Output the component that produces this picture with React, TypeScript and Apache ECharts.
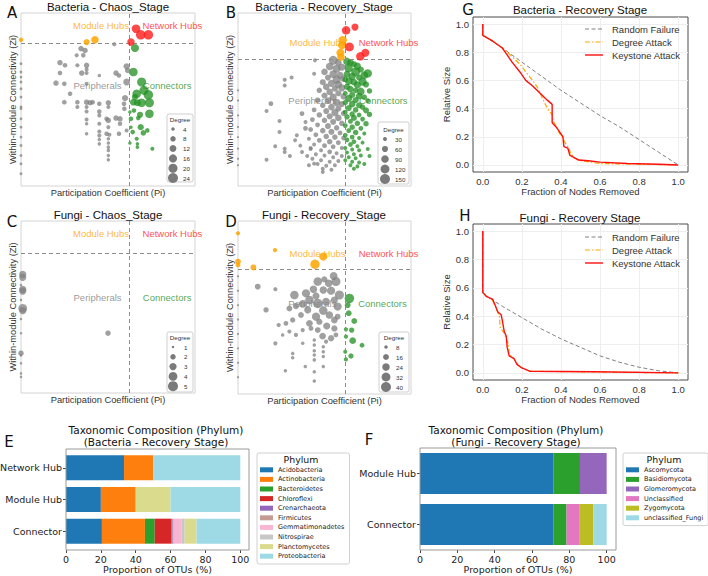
import React, { useEffect, useRef } from 'react';
import * as echarts from 'echarts';

// ---------- Zi–Pi role scatter data: [Pi, Zi, degree] ----------
const bacChaosPeripherals = [
  [0.345, 2.25, 8], [0.368, 2.16, 8], [0.32, 1.92, 5], [0.358, 1.92, 6], [0.536, 2.46, 5],
  [0.224, 1.56, 8], [0.253, 1.43, 6], [0.324, 1.43, 5], [0.377, 1.43, 8], [0.377, 1.23, 5],
  [0.349, 1.05, 8], [0.377, 1.05, 5], [0.45, 0.93, 4], [0.224, 1.05, 6], [0.546, 1.05, 8],
  [0.563, 0.93, 6], [0.607, 1.38, 10], [0.607, 0.61, 12], [0.201, 0.56, 8], [0.249, 0.52, 6],
  [0.282, 0.03, 6], [0.377, 0.52, 5], [0.249, -0.38, 6], [0.324, -0.38, 6], [0.377, -0.38, 8],
  [0.397, -0.41, 8], [0.412, -0.38, 6], [0.45, -0.46, 6], [0.502, -0.41, 8], [0.502, -0.62, 5],
  [0.598, -0.18, 10], [0.592, -0.46, 6], [0.594, -0.7, 6], [0.324, -0.62, 5], [0.377, -0.62, 5],
  [0.377, -0.84, 5], [0.45, -0.84, 6], [0.45, -1.03, 5], [0.377, -1.23, 5], [0.377, -1.44, 4],
  [0.492, -1.2, 6], [0.502, -1.28, 8], [0.546, -1.16, 8], [0.569, -1.2, 8], [0.569, -1.44, 6],
  [0.45, -1.44, 5], [0.502, -1.61, 5], [0.377, -1.93, 4], [0.45, -1.82, 5], [0.45, -2.02, 5],
  [0.492, -1.93, 6], [0.508, -1.98, 5], [0.563, -1.93, 6], [0.607, -1.77, 5], [0.45, -2.21, 4],
  [0.45, -2.43, 4], [0.502, -2.18, 4], [0.502, -2.39, 4], [0.502, -2.59, 4], [0.502, -2.75, 4],
  [0.502, -3.0, 4], [0.502, -3.21, 4], [0.613, 1.18, 8],
  [0, 1.51, 3], [0, 1.1, 3], [0, 0.85, 3], [0, 0.61, 3], [0, 0.28, 3], [0, -0.13, 3],
  [0, -0.62, 3], [0, -0.7, 3], [0, -1.2, 3], [0, -1.61, 3], [0, -2.1, 3], [0, -2.51, 3],
  [0, -3.0, 3], [0, -3.41, 3], [0, -3.9, 3],
];
const bacChaosConnectors = [
  [0.655, 2.28, 16], [0.646, 1.1, 18], [0.693, 0.61, 20], [0.665, 0.03, 18], [0.707, 0.2, 20],
  [0.732, -0.02, 22], [0.646, -0.38, 12], [0.669, -0.41, 12], [0.693, -0.41, 18], [0.738, -0.41, 20],
  [0.738, -0.95, 18], [0.684, -1.0, 10], [0.649, -0.79, 6], [0.626, -0.87, 4], [0.632, -1.2, 6],
  [0.674, -1.16, 6], [0.632, -1.61, 4], [0.688, -1.61, 10], [0.642, -1.85, 6], [0.703, -1.89, 8],
  [0.726, -1.77, 6], [0.665, -2.18, 5], [0.626, -2.39, 4], [0.669, -2.43, 4], [0.669, -2.59, 4],
  [0.755, -2.67, 5], [0.655, -0.13, 10],
];
const bacChaosModuleHubs = [[0.377, 2.57, 10], [0.425, 2.68, 14], [0.0, 2.68, 6]];
const bacChaosNetworkHubs = [[0.661, 3.23, 18], [0.688, 2.93, 22], [0.732, 2.93, 22], [0.632, 2.57, 14]];

const bacRecoveryPeripherals = [
  [0.55, 2.45, 120], [0.58, 2.35, 70], [0.53, 2.18, 90], [0.57, 2.08, 100], [0.6, 2.15, 80],
  [0.5, 1.95, 70], [0.55, 1.85, 90], [0.59, 1.8, 80], [0.52, 1.7, 60], [0.57, 1.62, 100],
  [0.61, 1.65, 70], [0.49, 1.5, 60], [0.54, 1.45, 80], [0.58, 1.4, 90], [0.51, 1.3, 70],
  [0.56, 1.22, 60], [0.6, 1.25, 80], [0.47, 1.15, 50], [0.53, 1.08, 70], [0.58, 1.02, 60],
  [0.5, 0.92, 60], [0.55, 0.85, 80], [0.61, 0.88, 60], [0.46, 0.72, 50], [0.52, 0.7, 70],
  [0.57, 0.62, 90], [0.6, 0.55, 60], [0.49, 0.5, 50], [0.54, 0.42, 70], [0.58, 0.35, 60],
  [0.44, 0.3, 40], [0.51, 0.25, 60], [0.56, 0.18, 80], [0.61, 0.15, 50], [0.47, 0.08, 50],
  [0.53, 0.02, 60], [0.58, -0.05, 70], [0.43, -0.12, 40], [0.5, -0.15, 50], [0.55, -0.22, 60],
  [0.6, -0.28, 50], [0.46, -0.35, 40], [0.52, -0.4, 60], [0.57, -0.48, 50], [0.42, -0.55, 40],
  [0.49, -0.6, 50], [0.54, -0.65, 60], [0.59, -0.7, 40], [0.45, -0.78, 40], [0.51, -0.85, 50],
  [0.56, -0.88, 50], [0.61, -0.92, 40], [0.41, -0.95, 30], [0.47, -1.02, 40], [0.53, -1.08, 50],
  [0.58, -1.12, 40], [0.44, -1.2, 30], [0.5, -1.25, 40], [0.55, -1.3, 40], [0.6, -1.35, 30],
  [0.42, -1.4, 30], [0.48, -1.45, 30], [0.53, -1.52, 40], [0.57, -1.58, 30], [0.45, -1.62, 30],
  [0.5, -1.68, 30], [0.55, -1.75, 30], [0.6, -1.7, 30], [0.43, -1.82, 30], [0.48, -1.88, 30],
  [0.53, -1.95, 30], [0.58, -1.92, 30], [0.46, -2.05, 30], [0.51, -2.12, 30], [0.56, -2.1, 30],
  [0.49, -2.25, 30], [0.54, -2.3, 30],
  [0.31, 1.7, 30], [0.27, 1.61, 30], [0.27, 1.36, 30], [0.44, 1.87, 30], [0.445, 2.45, 30],
  [0.19, 0.57, 40], [0.165, 0.25, 30], [0.24, -0.18, 30], [0.24, -0.66, 30], [0.215, -1.28, 30],
  [0.165, -1.86, 30], [0.27, -1.38, 30], [0.27, -1.53, 30], [0.33, -1.02, 30], [0.37, 0.14, 40],
  [0.39, -0.23, 30], [0.37, -1.53, 30], [0.4, -1.7, 30], [0.42, -1.35, 30], [0.44, -2.03, 30],
  [0.49, -2.39, 30], [0.39, -0.5, 40], [0.34, -0.8, 30], [0.36, -1.25, 30], [0.3, -1.7, 30],
  [0.41, -2.1, 30],
  [0, 1.15, 10], [0, 0.71, 10], [0, 0.06, 10], [0, -0.44, 10], [0, -0.88, 10], [0, -1.38, 10],
  [0, -1.82, 10], [0, -2.1, 10],
];
const bacRecoveryConnectors = [
  [0.63, 2.4, 90], [0.65, 2.35, 70], [0.67, 2.28, 60], [0.69, 2.2, 80], [0.64, 2.1, 100],
  [0.71, 2.05, 60], [0.68, 1.95, 120], [0.75, 1.88, 110], [0.73, 1.8, 90], [0.63, 1.85, 70],
  [0.66, 1.75, 80], [0.7, 1.7, 60], [0.62, 1.62, 50], [0.64, 1.55, 90], [0.67, 1.5, 70],
  [0.72, 1.52, 100], [0.74, 1.4, 60], [0.69, 1.38, 80], [0.63, 1.3, 60], [0.65, 1.2, 70],
  [0.68, 1.15, 50], [0.71, 1.1, 90], [0.76, 1.12, 50], [0.62, 1.02, 40], [0.66, 0.95, 60],
  [0.7, 0.9, 70], [0.73, 0.85, 50], [0.64, 0.8, 80], [0.68, 0.72, 60], [0.75, 0.7, 40],
  [0.62, 0.62, 50], [0.66, 0.55, 70], [0.7, 0.5, 60], [0.72, 0.42, 50], [0.64, 0.38, 60],
  [0.68, 0.3, 50], [0.74, 0.28, 60], [0.62, 0.2, 40], [0.66, 0.12, 50], [0.7, 0.08, 40],
  [0.76, 0.1, 50], [0.63, 0.0, 50], [0.67, -0.05, 60], [0.72, -0.1, 40], [0.65, -0.2, 40],
  [0.69, -0.28, 50], [0.74, -0.3, 50], [0.62, -0.38, 40], [0.66, -0.45, 50], [0.71, -0.5, 40],
  [0.64, -0.6, 40], [0.68, -0.68, 50], [0.73, -0.72, 30], [0.62, -0.8, 40], [0.66, -0.88, 40],
  [0.7, -0.92, 30], [0.63, -1.0, 40], [0.67, -1.08, 40], [0.72, -1.12, 30], [0.65, -1.2, 40],
  [0.69, -1.28, 30], [0.62, -1.35, 30], [0.66, -1.42, 30], [0.7, -1.45, 30], [0.75, -1.4, 30],
  [0.63, -1.55, 30], [0.67, -1.62, 30], [0.71, -1.68, 30], [0.64, -1.75, 30], [0.68, -1.8, 30],
  [0.76, -1.7, 30], [0.62, -1.88, 30], [0.66, -1.95, 30], [0.7, -1.98, 30], [0.65, -2.1, 30],
  [0.69, -2.15, 30], [0.73, -2.05, 30], [0.67, -2.25, 30],
];
const bacRecoveryModuleHubs = [[0.605, 3.32, 110], [0.601, 3.1, 100], [0.592, 2.78, 100], [0.595, 2.59, 90]];
const bacRecoveryNetworkHubs = [[0.625, 3.75, 110], [0.676, 3.89, 80], [0.644, 3.03, 120], [0.707, 2.62, 110], [0.736, 2.78, 100]];

const fungiChaosPeripherals = [
  [0.5, -1.22, 2],
  [0.01, 1.52, 3], [0.01, 1.38, 3], [0.0, 1.02, 1], [0.01, 0.82, 3], [0.01, 0.74, 3],
  [0.0, 0.33, 1], [0.01, -0.06, 4], [0.01, -0.17, 3], [0.0, -0.56, 1], [0.0, -1.22, 1],
  [0.0, -2.15, 2], [0.0, -2.25, 1], [0.0, -2.62, 1], [0.0, -3.09, 1], [0.0, -3.25, 1],
];
const fungiChaosConnectors: number[][] = [];
const fungiChaosModuleHubs: number[][] = [];
const fungiChaosNetworkHubs: number[][] = [];

const fungiRecoveryPeripherals = [
  [0.114, 1.77, 16], [0.216, 1.66, 10], [0.162, 0.8, 14], [0.326, 1.42, 30], [0.393, 1.49, 28],
  [0.436, 1.66, 24], [0.461, 1.98, 30], [0.499, 2.07, 18], [0.553, 2.21, 26], [0.566, 1.98, 34],
  [0.524, 1.91, 24], [0.586, 1.42, 34], [0.538, 1.6, 28], [0.493, 1.63, 24], [0.451, 1.38, 22],
  [0.413, 1.21, 30], [0.374, 1.05, 26], [0.335, 0.96, 18], [0.297, 0.86, 16], [0.461, 1.07, 36],
  [0.509, 1.14, 26], [0.557, 1.21, 22], [0.576, 0.94, 28], [0.493, 0.77, 30], [0.528, 0.59, 24],
  [0.451, 0.52, 28], [0.403, 0.8, 22], [0.364, 0.59, 16], [0.316, 0.38, 14], [0.277, 0.24, 12],
  [0.235, 0.17, 10], [0.413, 0.24, 20], [0.47, 0.31, 18], [0.557, 0.38, 20], [0.576, 0.52, 16],
  [0.513, 0.13, 22], [0.557, 0.03, 18], [0.461, -0.04, 16], [0.422, 0.03, 12], [0.374, -0.04, 10],
  [0.335, -0.24, 10], [0.297, -0.1, 10], [0.258, -0.24, 8], [0.216, -0.59, 10], [0.489, -0.29, 20],
  [0.538, -0.38, 18], [0.566, -0.24, 12], [0.509, -0.52, 10], [0.441, -0.45, 8], [0.441, -0.66, 8],
  [0.374, -0.59, 8], [0.441, -0.9, 8], [0.493, -0.94, 8], [0.493, -0.73, 8], [0.441, -1.08, 8],
  [0.441, -1.28, 8], [0.493, -1.14, 8], [0.493, -1.56, 8], [0.316, -1.01, 8], [0.316, -1.19, 8],
  [0.274, -1.73, 8], [0.441, -1.77, 8], [0.441, -2.16, 8], [0.389, -1.56, 8],
  [0, 2.2, 4], [0, 1.6, 4], [0, 1.0, 4], [0, 0.4, 4], [0, -0.2, 4], [0, -0.8, 4], [0, -1.4, 4], [0, -2.0, 4],
];
const fungiRecoveryConnectors = [
  [0.644, 1.28, 36], [0.634, 1.0, 16], [0.64, 0.66, 16], [0.672, 0.34, 16], [0.624, -0.01, 10],
  [0.657, -0.04, 14], [0.663, -0.48, 20], [0.717, -0.67, 12], [0.624, -0.31, 10], [0.62, -0.94, 10],
  [0.653, -1.12, 14], [0.624, -1.26, 10],
];
const fungiRecoveryModuleHubs = [
  [0.0, 3.99, 10], [0.214, 3.29, 10], [0.0, 2.81, 16], [0.0, 2.67, 12], [0.089, 2.57, 16],
  [0.445, 2.7, 36], [0.493, 3.02, 28],
];
const fungiRecoveryNetworkHubs: number[][] = [];

// degree keys shown in each size legend
const degreeKeysBacChaos = [4, 8, 12, 16, 20, 24];
const degreeKeysBacRecovery = [30, 60, 90, 120, 150];
const degreeKeysFungiChaos = [1, 2, 3, 4, 5];
const degreeKeysFungiRecovery = [8, 16, 24, 32, 40];

// role thresholds
const PI_CUT = 0.62;
const ZI_CUT = 2.5;

// ---------- robustness curves: [fraction removed, relative size] ----------
const attackNames = ['Random Failure', 'Degree Attack', 'Keystone Attack'];
const bacRandom = [[0, 1], [0, 0.92], [0.1, 0.83], [0.2, 0.73], [0.3, 0.63], [0.4, 0.53], [0.5, 0.44], [0.6, 0.35], [0.7, 0.27], [0.8, 0.18], [0.9, 0.09], [1, 0]];
const bacDegree = [[0, 1], [0, 0.92], [0.05, 0.88], [0.1, 0.83], [0.15, 0.77], [0.2, 0.7], [0.22, 0.66], [0.255, 0.6], [0.28, 0.55], [0.3, 0.49], [0.32, 0.43], [0.34, 0.38], [0.355, 0.36], [0.36, 0.31], [0.38, 0.27], [0.39, 0.23], [0.41, 0.19], [0.42, 0.16], [0.44, 0.12], [0.45, 0.08], [0.47, 0.05], [0.5, 0.03], [0.55, 0.02], [0.6, 0.01], [0.8, 0.005], [1, 0]];
const bacKeystone = [[0, 1], [0, 0.92], [0.05, 0.88], [0.1, 0.83], [0.12, 0.79], [0.15, 0.73], [0.19, 0.66], [0.22, 0.6], [0.255, 0.56], [0.3, 0.5], [0.33, 0.46], [0.355, 0.43], [0.355, 0.3], [0.375, 0.27], [0.4, 0.22], [0.41, 0.2], [0.415, 0.13], [0.435, 0.12], [0.445, 0.07], [0.47, 0.05], [0.49, 0.035], [0.54, 0.03], [0.6, 0.02], [0.74, 0.01], [0.9, 0.005], [1, 0]];
const fungiRandom = [[0, 1], [0, 0.56], [0.1, 0.47], [0.2, 0.39], [0.3, 0.31], [0.4, 0.24], [0.5, 0.18], [0.6, 0.12], [0.7, 0.075], [0.8, 0.04], [0.9, 0.015], [1, 0]];
const fungiDegree = [[0, 1], [0, 0.57], [0.02, 0.54], [0.05, 0.51], [0.07, 0.45], [0.085, 0.4], [0.09, 0.31], [0.1, 0.3], [0.11, 0.28], [0.12, 0.24], [0.13, 0.21], [0.135, 0.13], [0.16, 0.1], [0.18, 0.06], [0.2, 0.035], [0.24, 0.012], [0.6, 0.006], [1, 0]];
const fungiKeystone = [[0, 1], [0, 0.57], [0.017, 0.54], [0.05, 0.52], [0.06, 0.49], [0.077, 0.43], [0.094, 0.41], [0.1, 0.37], [0.11, 0.29], [0.12, 0.26], [0.125, 0.18], [0.135, 0.12], [0.16, 0.1], [0.175, 0.06], [0.2, 0.035], [0.24, 0.012], [0.57, 0.008], [1, 0]];
const fractionTicks = [0, 0.2, 0.4, 0.6, 0.8, 1.0];

// ---------- taxonomic composition (% of OTUs) ----------
const bacRoles = ['Connector', 'Module Hub', 'Network Hub'];
const bacPhyla = ['Acidobacteria', 'Actinobacteria', 'Bacteroidetes', 'Chloroflexi', 'Crenarchaeota', 'Firmicutes', 'Gemmatimonadetes', 'Nitrospirae', 'Planctomycetes', 'Proteobacteria'];
const bacConnectorPct = [20.6, 24.7, 5.6, 9.7, 0.6, 0.6, 4.4, 1.9, 6.8, 25.1];
const bacModuleHubPct = [20, 20, 0, 0, 0, 0, 0, 0, 20, 40];
const bacNetworkHubPct = [33.3, 16.7, 0, 0, 0, 0, 0, 0, 0, 50];
const bacPhylaColors = ['#1f77b4', '#ff7f0e', '#2ca02c', '#d62728', '#9467bd', '#c49c94', '#f7b6d2', '#c7c7c7', '#dbdb8d', '#9edae5'];

const fungiRoles = ['Connector', 'Module Hub'];
const fungiPhyla = ['Ascomycota', 'Basidiomycota', 'Glomeromycota', 'Unclassified', 'Zygomycota', 'unclassified_Fungi'];
const fungiConnectorPct = [71.4, 7.1, 0, 7.1, 7.2, 7.2];
const fungiModuleHubPct = [71.4, 14.3, 14.3, 0, 0, 0];
const fungiPhylaColors = ['#1f77b4', '#2ca02c', '#9467bd', '#e377c2', '#bcbd22', '#9edae5'];
const pctTicks = [0, 20, 40, 60, 80, 100];

const SANS = '"Liberation Sans", Arial, Helvetica, sans-serif';
const DJ = '"DejaVu Sans", Verdana, sans-serif';

function sizeScale(dmin: number, dmax: number, lo: number, hi: number) {
  return (deg: number) => {
    const t = (deg - dmin) / (dmax - dmin);
    const area = lo * lo + (hi * hi - lo * lo) * t;
    return Math.sqrt(Math.max(area, 5));
  };
}

function txt(x: number, y: number, text: string, fontSize: number, opts: any = {}) {
  return {
    type: 'text',
    x,
    y,
    silent: true,
    z: 50,
    style: {
      text,
      fontSize,
      fontFamily: opts.fontFamily || SANS,
      fill: opts.fill || '#222',
      align: opts.align || 'center',
      verticalAlign: 'middle',
      textAlign: opts.align || 'center',
      textVerticalAlign: 'middle',
    },
  };
}

function buildOption() {
  const grids: any[] = [];
  const xAxes: any[] = [];
  const yAxes: any[] = [];
  const series: any[] = [];
  const graphics: any[] = [];
  const legends: any[] = [];

  const panels = [
    {
      rect: [21, 13, 174, 173], yRange: [-4.5, 4],
      peri: bacChaosPeripherals, conn: bacChaosConnectors, mod: bacChaosModuleHubs, net: bacChaosNetworkHubs,
      size: sizeScale(4, 24, 3.5, 10), keys: degreeKeysBacChaos,
      legend: { box: [167, 114, 26, 68], first: 15, step: 9.8, cdx: 6, ldx: 16 },
      notes: { mod: [0.46, 3.41], net: [0.87, 3.41], peri: [0.44, 0.46], conn: [0.84, 0.46] },
      title: 'Bacteria - Chaos_Stage', titleAt: [108, 7], letter: 'A', letterAt: [12, 13],
    },
    {
      rect: [238, 13, 173, 173], yRange: [-3, 4.5],
      peri: bacRecoveryPeripherals, conn: bacRecoveryConnectors, mod: bacRecoveryModuleHubs, net: bacRecoveryNetworkHubs,
      size: sizeScale(30, 150, 4, 10), keys: degreeKeysBacRecovery,
      legend: { box: [378, 122, 31, 62], first: 17, step: 10, cdx: 7, ldx: 17 },
      notes: { mod: [0.46, 3.21], net: [0.87, 3.21], peri: [0.43, 0.69], conn: [0.84, 0.69] },
      title: 'Bacteria - Recovery_Stage', titleAt: [324, 7], letter: 'B', letterAt: [231, 13],
    },
    {
      rect: [21, 221, 174, 172], yRange: [-4, 4],
      peri: fungiChaosPeripherals, conn: fungiChaosConnectors, mod: fungiChaosModuleHubs, net: fungiChaosNetworkHubs,
      size: sizeScale(1, 5, 2.5, 10), keys: degreeKeysFungiChaos,
      legend: { box: [167, 332, 26, 60], first: 15, step: 9.8, cdx: 6, ldx: 17 },
      notes: { mod: [0.46, 3.4], net: [0.87, 3.4], peri: [0.44, 0.42], conn: [0.84, 0.42] },
      title: 'Fungi - Chaos_Stage', titleAt: [108, 215], letter: 'C', letterAt: [12, 222],
    },
    {
      rect: [238, 221, 173, 173], yRange: [-2.7, 4.5],
      peri: fungiRecoveryPeripherals, conn: fungiRecoveryConnectors, mod: fungiRecoveryModuleHubs, net: fungiRecoveryNetworkHubs,
      size: sizeScale(8, 40, 3.5, 10), keys: degreeKeysFungiRecovery,
      legend: { box: [379, 332, 30, 60], first: 15, step: 10, cdx: 7, ldx: 17 },
      notes: { mod: [0.46, 3.13], net: [0.87, 3.13], peri: [0.43, 1.05], conn: [0.835, 1.05] },
      title: 'Fungi - Recovery_Stage', titleAt: [324, 215], letter: 'D', letterAt: [231, 222],
    },
  ];

  panels.forEach((p, i) => {
    const [l, t, w, h] = p.rect;
    grids.push({ left: l, top: t, width: w, height: h, show: true, borderColor: '#d4d4d4', borderWidth: 1, backgroundColor: '#fff', containLabel: false, outerBoundsMode: 'none' });
    xAxes.push({
      type: 'value', gridIndex: i, min: 0, max: 1,
      axisLine: { show: false }, axisTick: { show: false }, axisLabel: { show: false }, splitLine: { show: false },
      name: 'Participation Coefficient (Pi)', nameLocation: 'middle', nameGap: 2,
      nameTextStyle: { fontSize: 9.3, fontFamily: SANS, color: '#333', verticalAlign: 'top' },
    });
    yAxes.push({
      type: 'value', gridIndex: i, min: p.yRange[0], max: p.yRange[1],
      axisLine: { show: false }, axisTick: { show: false }, axisLabel: { show: false }, splitLine: { show: false },
      name: 'Within-module Connectivity (Zi)', nameLocation: 'middle', nameGap: 4,
      nameTextStyle: { fontSize: 9.3, fontFamily: SANS, color: '#333' },
    });
    const sym = (v: number[]) => p.size(v[2]);
    const groups = [
      { data: p.peri, color: '#808080', opacity: 0.75 },
      { data: p.conn, color: '#1f8f1f', opacity: 0.75 },
      { data: p.mod, color: '#ffa500', opacity: 0.85 },
      { data: p.net, color: '#ff1a1a', opacity: 0.8 },
    ];
    // role labels sit underneath the nodes
    const n = p.notes;
    series.push({
      type: 'scatter', xAxisIndex: i, yAxisIndex: i, symbolSize: 1, silent: true, z: 2,
      itemStyle: { color: 'rgba(0,0,0,0)' },
      label: { show: true, position: 'inside', formatter: '{b}', fontSize: 9.5, fontFamily: SANS },
      data: [
        { name: 'Module Hubs', value: n.mod, label: { color: '#ffa500' } },
        { name: 'Network Hubs', value: n.net, label: { color: '#ff2020' } },
        { name: 'Peripherals', value: n.peri, label: { color: '#808080' } },
        { name: 'Connectors', value: n.conn, label: { color: '#1f8f1f' } },
      ],
    });
    groups.forEach((g, gi) => {
      const s: any = {
        type: 'scatter', xAxisIndex: i, yAxisIndex: i, data: g.data, symbolSize: sym, clip: false,
        itemStyle: { color: g.color, opacity: g.opacity }, silent: true, z: 3 + gi,
      };
      if (gi === 0) {
        s.markLine = {
          silent: true, symbol: 'none', label: { show: false }, animation: false,
          lineStyle: { type: [4, 3], color: '#8c8c8c', width: 1 },
          data: [{ xAxis: PI_CUT }, { yAxis: ZI_CUT }],
        };
      }
      series.push(s);
    });
    // size legend
    const [bx, by, bw, bh] = p.legend.box;
    graphics.push({ type: 'rect', shape: { x: bx, y: by, width: bw, height: bh, r: 2 }, style: { fill: '#fff', stroke: '#cfcfcf', lineWidth: 1 }, z: 40, silent: true });
    graphics.push(txt(bx + bw / 2, by + p.legend.first - 9.5, 'Degree', 6.2, { fill: '#333' }));
    p.keys.forEach((k, ki) => {
      const cy = by + p.legend.first + ki * p.legend.step;
      graphics.push({ type: 'circle', shape: { cx: bx + p.legend.cdx, cy, r: p.size(k) / 2 }, style: { fill: '#7a7a7a' }, z: 41, silent: true });
      graphics.push(txt(bx + p.legend.ldx, cy, String(k), 6.2, { align: 'left', fill: '#333' }));
    });
    graphics.push(txt(p.titleAt[0], p.titleAt[1], p.title, 11.5, { fill: '#111' }));
    graphics.push(txt(p.letterAt[0], p.letterAt[1], p.letter, 15, { fill: '#111', fontFamily: DJ }));
  });

  // ---------- robustness panels ----------
  const attackStyles = [
    { color: '#808080', width: 1, type: [4, 2.5] as any, z: 3 },
    { color: '#ffa500', width: 1.2, type: [5, 2, 1.5, 2] as any, z: 4 },
    { color: '#ff1010', width: 1.4, type: 'solid' as any, z: 5 },
  ];
  const robust = [
    { rect: [473, 17, 215, 155], curves: [bacRandom, bacDegree, bacKeystone], title: 'Bacteria - Recovery Stage', titleAt: [580, 10], letter: 'G', letterAt: [468, 10], legendY: 29 },
    { rect: [473, 224, 215, 156], curves: [fungiRandom, fungiDegree, fungiKeystone], title: 'Fungi - Recovery Stage', titleAt: [580, 218], letter: 'H', letterAt: [465, 216], legendY: 237 },
  ];
  robust.forEach((r) => {
    const gi = grids.length;
    const [l, t, w, h] = r.rect;
    grids.push({ left: l, top: t, width: w, height: h, show: true, borderColor: '#4a4a4a', borderWidth: 1, backgroundColor: '#fff', containLabel: false, outerBoundsMode: 'none' });
    xAxes.push({
      type: 'value', gridIndex: gi, min: -0.05, max: 1.05,
      axisLine: { show: false }, axisTick: { show: false, customValues: fractionTicks },
      axisLabel: { customValues: fractionTicks, formatter: (v: number) => v.toFixed(1), fontSize: 9.5, fontFamily: SANS, color: '#333', margin: 4 },
      splitLine: { show: true, lineStyle: { color: '#eeeeee', width: 1 } },
      name: 'Fraction of Nodes Removed', nameLocation: 'middle', nameGap: 12,
      nameTextStyle: { fontSize: 9.5, fontFamily: SANS, color: '#333' },
    });
    yAxes.push({
      type: 'value', gridIndex: gi, min: -0.05, max: 1.05,
      axisLine: { show: false }, axisTick: { show: false, customValues: fractionTicks },
      axisLabel: { customValues: fractionTicks, formatter: (v: number) => v.toFixed(1), fontSize: 9.5, fontFamily: SANS, color: '#333', margin: 4 },
      splitLine: { show: true, lineStyle: { color: '#eeeeee', width: 1 } },
      name: 'Relative Size', nameLocation: 'middle', nameGap: 13,
      nameTextStyle: { fontSize: 9.5, fontFamily: SANS, color: '#333' },
    });
    r.curves.forEach((data, ci) => {
      const st = attackStyles[ci];
      series.push({
        type: 'line', name: attackNames[ci], xAxisIndex: gi, yAxisIndex: gi, data, symbol: 'none',
        lineStyle: { color: st.color, width: st.width, type: st.type }, itemStyle: { color: st.color }, z: st.z,
      });
      // key entry
      const ly = r.legendY + ci * 13;
      graphics.push({
        type: 'line', silent: true, z: 45,
        shape: { x1: 585, y1: ly, x2: 603, y2: ly },
        style: { stroke: st.color, lineWidth: st.width, lineDash: Array.isArray(st.type) ? st.type : null },
      });
      graphics.push(txt(612, ly, attackNames[ci], 9.5, { align: 'left', fill: '#333' }));
    });
    graphics.push(txt(r.titleAt[0], r.titleAt[1], r.title, 11.5, { fill: '#111' }));
    graphics.push(txt(r.letterAt[0], r.letterAt[1], r.letter, 15, { fill: '#111', fontFamily: DJ }));
  });

  // ---------- composition panels ----------
  const comps = [
    {
      rect: [66, 452, 183, 95], frame: [66, 449, 183, 101], axisOffset: 3, roles: bacRoles, phyla: bacPhyla, colors: bacPhylaColors,
      rows: [bacConnectorPct, bacModuleHubPct, bacNetworkHubPct], barWidth: 25, stack: 'bac',
      titleLines: ['Taxonomic Composition (Phylum)', '(Bacteria - Recovery Stage)'], titleX: 156,
      letter: 'E', letterAt: [9, 442], legendLeft: 257, legendTitleX: 301,
    },
    {
      rect: [420, 448, 196, 102], frame: [420, 448, 196, 102], axisOffset: 0, roles: fungiRoles, phyla: fungiPhyla, colors: fungiPhylaColors,
      rows: [fungiConnectorPct, fungiModuleHubPct], barWidth: 41, stack: 'fungi',
      titleLines: ['Taxonomic Composition (Phylum)', '(Fungi - Recovery Stage)'], titleX: 516,
      letter: 'F', letterAt: [369, 440], legendLeft: 623, legendTitleX: 664,
    },
  ];
  comps.forEach((c) => {
    const gi = grids.length;
    const [l, t, w, h] = c.rect;
    grids.push({ left: l, top: t, width: w, height: h, show: false, containLabel: false, outerBoundsMode: 'none' });
    const [fx, fy, fw, fh] = c.frame;
    graphics.push({ type: 'rect', silent: true, z: 30, shape: { x: fx, y: fy, width: fw, height: fh }, style: { fill: 'none', stroke: '#9a9a9a', lineWidth: 1 } });
    xAxes.push({
      type: 'value', gridIndex: gi, min: 0, max: 105, offset: c.axisOffset,
      axisLine: { show: false },
      axisTick: { show: true, customValues: pctTicks, length: 3, lineStyle: { color: '#444' } },
      axisLabel: { customValues: pctTicks, fontSize: 9.5, fontFamily: DJ, color: '#222', margin: 4 },
      splitLine: { show: false },
      name: 'Proportion of OTUs (%)', nameLocation: 'middle', nameGap: 13,
      nameTextStyle: { fontSize: 9.5, fontFamily: DJ, color: '#222' },
    });
    yAxes.push({
      type: 'category', gridIndex: gi, data: c.roles,
      axisLine: { show: false },
      axisTick: { show: true, alignWithLabel: true, length: 3, lineStyle: { color: '#444' } },
      axisLabel: { fontSize: 9.5, fontFamily: DJ, color: '#222', margin: 4 },
      splitLine: { show: false },
    });
    c.phyla.forEach((ph, pi) => {
      series.push({
        type: 'bar', name: ph, stack: c.stack, xAxisIndex: gi, yAxisIndex: gi, barWidth: c.barWidth,
        data: c.rows.map((row) => row[pi]), itemStyle: { color: c.colors[pi] }, silent: true,
      });
    });
    legends.push({
      orient: 'vertical', left: c.legendLeft, top: 453, selectedMode: false, data: c.phyla,
      icon: 'rect', itemWidth: 13, itemHeight: 5, itemGap: 0, padding: [12, 5, 3, 3],
      borderColor: '#d0d0d0', borderWidth: 1, borderRadius: 2, backgroundColor: '#fff',
      textStyle: { fontSize: 6.5, fontFamily: DJ, color: '#222', lineHeight: 9.6 },
    });
    graphics.push(txt(c.legendTitleX, 459, 'Phylum', 9.4, { fontFamily: DJ, fill: '#111' }));
    graphics.push(txt(c.titleX, 430, c.titleLines[0], 10.5, { fontFamily: DJ, fill: '#111' }));
    graphics.push(txt(c.titleX, 442, c.titleLines[1], 10.5, { fontFamily: DJ, fill: '#111' }));
    graphics.push(txt(c.letterAt[0], c.letterAt[1], c.letter, 15, { fill: '#111', fontFamily: DJ }));
  });

  return {
    animation: false,
    backgroundColor: '#ffffff',
    grid: grids,
    xAxis: xAxes,
    yAxis: yAxes,
    series,
    legend: legends,
    graphic: { elements: graphics },
  };
}

export default function App() {
  const ref = useRef<HTMLDivElement>(null);
  useEffect(() => {
    if (!ref.current) return;
    const chart = echarts.init(ref.current, undefined, { renderer: 'svg' });
    chart.setOption(buildOption() as any);
    return () => chart.dispose();
  }, []);
  return (
    <div
      ref={ref}
      style={{ position: 'absolute', left: 0, top: 0, width: 708, height: 576, background: '#fff' }}
    />
  );
}
